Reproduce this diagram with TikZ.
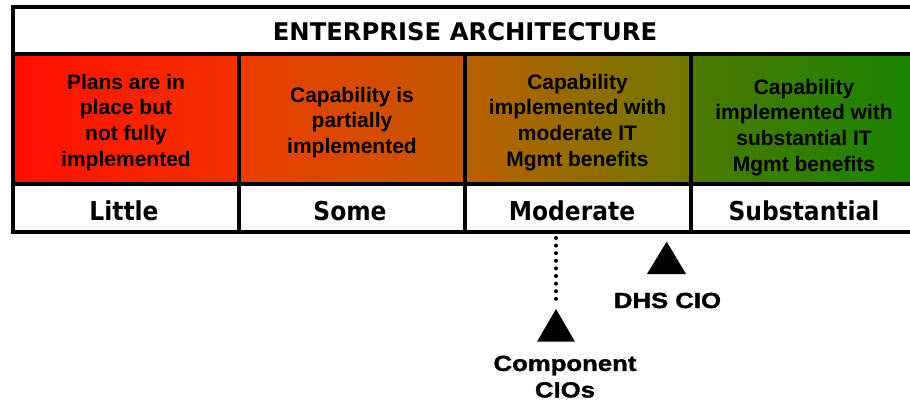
\documentclass[tikz,border=0pt]{standalone}
\usepackage{fontspec}
\setmainfont{Liberation Sans}
\newfontfamily\armain{Liberation Sans}
\newfontfamily\arwide{Liberation Sans}[FakeStretch=1.18, BoldFeatures={FakeBold=1.6}]
\newfontfamily\verd{DejaVu Sans}
\newfontfamily\verdc{DejaVu Sans}[FakeStretch=0.9]
\definecolor{cA}{HTML}{FF0E00}
\definecolor{cB}{HTML}{F23200}
\definecolor{cC}{HTML}{EC3C00}
\definecolor{cD}{HTML}{C25800}
\definecolor{cE}{HTML}{BA5F00}
\definecolor{cF}{HTML}{6E7800}
\definecolor{cG}{HTML}{4C7800}
\definecolor{cH}{HTML}{188400}
\begin{document}
\begin{tikzpicture}[x=1pt,y=-1pt,
  gridline/.style={line width=3.5pt, black},
  celltext/.style={font=\armain\bfseries\fontsize{21}{25.7}\selectfont, align=center, anchor=north, inner sep=0pt, text=black},
  levtext/.style={font=\verdc\bfseries\fontsize{26}{30}\selectfont, anchor=base, inner sep=0pt},
  hdrtext/.style={font=\verd\bfseries\fontsize{24.3}{28}\selectfont, anchor=base, inner sep=0pt},
  ciotext/.style={font=\arwide\bfseries\fontsize{21.8}{26.5}\selectfont, align=center, inner sep=0pt},
  dotline/.style={line width=4pt, line cap=round, dash pattern=on 0pt off 7.6pt}]
\useasboundingbox (0,0) rectangle (910,406);
\clip (0,0) rectangle (910,406);
\fill[white] (0,0) rectangle (910,406);
% coloured row
\shade[left color=cA, right color=cB] (13,54) rectangle (239,184);
\shade[left color=cC, right color=cD] (239,54) rectangle (465,184);
\shade[left color=cE, right color=cF] (465,54) rectangle (691,184);
\shade[left color=cG, right color=cH] (691,54) rectangle (915,184);
% grid
\draw[gridline] (13,232) -- (13,7) -- (915,7);
\draw[gridline] (13,54) -- (915,54);
\draw[gridline] (13,184) -- (915,184);
\draw[gridline] (11.25,232) -- (915,232);
\foreach \x in {239,465,691} \draw[gridline] (\x,54) -- (\x,232);
% header
\node[hdrtext] (hdr) at (465,40.7) {ENTERPRISE ARCHITECTURE};
% cells
\node[celltext] (c1) at (126,73.7) {Plans are in\\place but\\not fully\\implemented};
\node[celltext] (c2) at (352,86.7) {Capability is\\partially\\implemented};
\node[celltext] (c3) at (577.5,73.7) {Capability\\implemented with\\moderate IT\\Mgmt benefits};
\node[celltext] (c4) at (804,78.7) {Capability\\implemented with\\substantial IT\\Mgmt benefits};
% levels
\node[levtext] (l1) at (124,220.7) {Little};
\node[levtext] (l2) at (350,220.7) {Some};
\node[levtext] (l3) at (572,220.7) {Moderate};
\node[levtext] (l4) at (804,220.7) {Substantial};
% DHS CIO marker
\coordinate (dhsapex) at (666.7,241.7);
\fill (dhsapex) -- (686,274) -- (647,274) -- cycle;
\node[ciotext, anchor=base] (dhs) at (667.5,308) {DHS CIO};
% Component CIOs marker
\coordinate (dtop) at (556,238);
\coordinate (dbot) at (556,300);
\coordinate (compapex) at (556,309);
\draw[dotline] (dtop) -- (dbot);
\fill (compapex) -- (575,341.7) -- (537,341.7) -- cycle;
\node[ciotext, anchor=north] (comp) at (565,355.5) {Component\\CIOs};
\end{tikzpicture}
\end{document}
